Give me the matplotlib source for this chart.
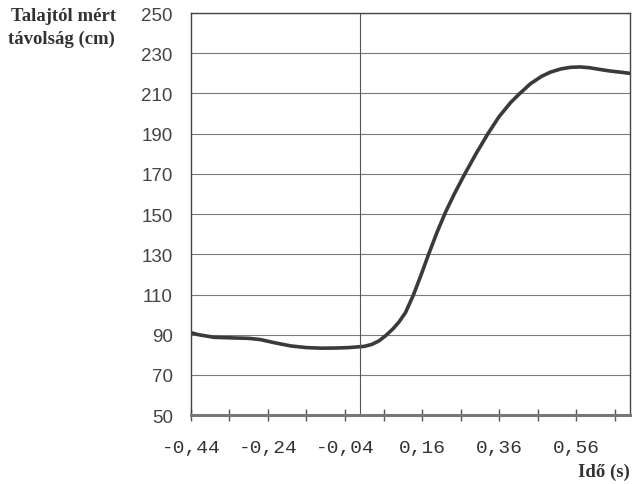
import matplotlib.pyplot as plt
from matplotlib.ticker import FixedLocator, FuncFormatter

# time (s) and height above ground (cm)
ido = [-0.44, -0.42, -0.38, -0.33, -0.29, -0.26, -0.22, -0.18, -0.14, -0.10, -0.06, -0.03,
       0.01, 0.03, 0.048, 0.066, 0.085, 0.10, 0.117, 0.137, 0.157, 0.177, 0.199, 0.221,
       0.245, 0.271, 0.30, 0.331, 0.36, 0.39, 0.411, 0.441, 0.47, 0.493, 0.52, 0.545,
       0.57, 0.595, 0.62, 0.647, 0.675, 0.70]
tavolsag = [91.0, 90.0, 88.7, 88.4, 88.2, 87.6, 85.9, 84.4, 83.6, 83.3, 83.4, 83.6,
            84.2, 85.2, 86.9, 89.6, 93.0, 96.3, 101.0, 109.5, 119.5, 130.0, 141.0, 151.0,
            160.5, 170.0, 180.0, 190.0, 198.5, 205.5, 209.5, 214.8, 218.5, 220.6, 222.2, 223.0,
            223.2, 222.8, 222.0, 221.2, 220.6, 220.0]

x_labels = [-0.44, -0.24, -0.04, 0.16, 0.36, 0.56]
x_minor = [-0.34, -0.14, 0.06, 0.26, 0.46, 0.66]
y_ticks = list(range(50, 251, 20))

fig = plt.figure(figsize=(6.32, 4.85), dpi=100)
ax = fig.add_axes([0.302, 0.142, 0.695, 0.829])

ax.plot(ido, tavolsag, color="#3a3a3a", lw=2.6, solid_capstyle="round",
        solid_joinstyle="round")
ax.axvline(0.0, color="#555555", lw=0.8)

ax.set_xlim(-0.44, 0.70)
ax.set_ylim(50, 250)
ax.set_yticks(y_ticks)
ax.yaxis.grid(True, color="#7a7a7a", lw=0.8)
ax.set_axisbelow(True)

ax.xaxis.set_major_locator(FixedLocator(x_labels))
ax.xaxis.set_minor_locator(FixedLocator(x_minor))
ax.xaxis.set_major_formatter(FuncFormatter(lambda v, p: f"{v:.2f}".replace(".", ",")))
ax.tick_params(axis="x", which="both", direction="inout", length=9, width=1,
               color="#555555", pad=13)
ax.tick_params(axis="y", length=0, pad=13)

for lbl in ax.get_xticklabels():
    lbl.set_family("Liberation Mono")
    lbl.set_fontsize(14)
    lbl.set_color("#333333")
for lbl in ax.get_yticklabels():
    lbl.set_family("Liberation Sans")
    lbl.set_fontsize(13.5)
    lbl.set_color("#444444")

for side in ["left", "right", "top"]:
    ax.spines[side].set_color("#444444")
    ax.spines[side].set_linewidth(1.0)
ax.spines["bottom"].set_color("#777777")
ax.spines["bottom"].set_linewidth(2.2)

fig.text(0.018, 0.967, "Talajtól mért", fontfamily="Liberation Serif", fontweight="bold",
         fontsize=13.5, va="center", ha="left", color="#333333")
fig.text(0.012, 0.919, "távolság (cm)", fontfamily="Liberation Serif", fontweight="bold",
         fontsize=13.5, va="center", ha="left", color="#333333")
fig.text(0.997, 0.027, "Idő (s)", fontfamily="Liberation Serif", fontweight="bold",
         fontsize=13.5, va="center", ha="right", color="#333333")

fig.savefig("out.png", dpi=100)
